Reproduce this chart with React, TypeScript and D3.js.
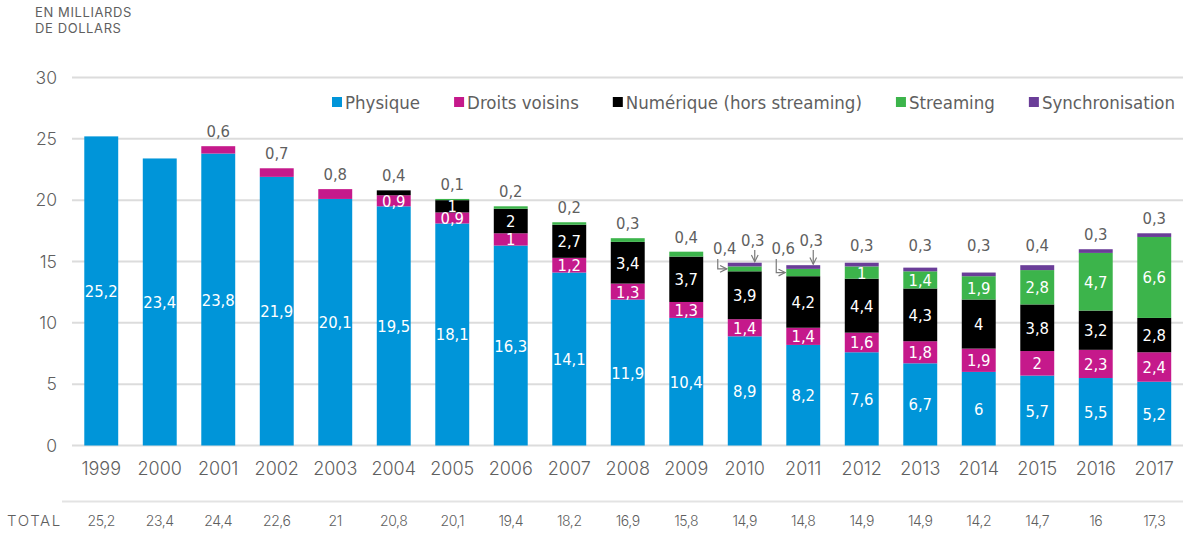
import { useEffect, useRef } from 'react';
import * as d3 from 'd3';

const years = ['1999', '2000', '2001', '2002', '2003', '2004', '2005', '2006', '2007', '2008', '2009', '2010', '2011', '2012', '2013', '2014', '2015', '2016', '2017'];
const physique = [25.2, 23.4, 23.8, 21.9, 20.1, 19.5, 18.1, 16.3, 14.1, 11.9, 10.4, 8.9, 8.2, 7.6, 6.7, 6, 5.7, 5.5, 5.2];
const droitsVoisins = [0, 0, 0.6, 0.7, 0.8, 0.9, 0.9, 1, 1.2, 1.3, 1.3, 1.4, 1.4, 1.6, 1.8, 1.9, 2, 2.3, 2.4];
const numerique = [0, 0, 0, 0, 0, 0.4, 1, 2, 2.7, 3.4, 3.7, 3.9, 4.2, 4.4, 4.3, 4, 3.8, 3.2, 2.8];
const streaming = [0, 0, 0, 0, 0, 0, 0.1, 0.2, 0.2, 0.3, 0.4, 0.4, 0.6, 1, 1.4, 1.9, 2.8, 4.7, 6.6];
const synchronisation = [0, 0, 0, 0, 0, 0, 0, 0, 0, 0, 0, 0.3, 0.3, 0.3, 0.3, 0.3, 0.4, 0.3, 0.3];
const totals = [25.2, 23.4, 24.4, 22.6, 21, 20.8, 20.1, 19.4, 18.2, 16.9, 15.8, 14.9, 14.8, 14.9, 14.9, 14.2, 14.7, 16, 17.3];
const yTicks = [0, 5, 10, 15, 20, 25, 30];

const seriesNames = ['Physique', 'Droits voisins', 'Numérique (hors streaming)', 'Streaming', 'Synchronisation'];
const seriesColors = ['#0095d9', '#c5198b', '#000000', '#3cb44b', '#6a3d98'];

const W = 1183;
const H = 537;
const narrow = "'Liberation Sans Narrow', 'DejaVu Sans Condensed', 'Arial Narrow', sans-serif";
const geo = "Inter, 'Noto Sans', sans-serif";
const grey = '#5f5f5f';

const fmt = (v: number) => String(v).replace('.', ',');

const App = () => {
  const svgRef = useRef<SVGSVGElement | null>(null);

  useEffect(() => {
    const svg = d3.select(svgRef.current);
    svg.selectAll('*').remove();

    const values = [physique, droitsVoisins, numerique, streaming, synchronisation];
    const rows = years.map((year, i) => {
      const r: any = { year };
      seriesNames.forEach((s, k) => { r[s] = values[k][i]; });
      return r;
    });
    const stacked = d3.stack().keys(seriesNames)(rows);

    const x = d3.scaleBand().domain(years).range([72, 1183.5]).paddingInner(0.42).paddingOuter(0.21);
    const y = d3.scaleLinear().domain([0, 30]).range([445.5, 77.5]);

    // arrow marker for the leader lines
    svg.append('defs').append('marker')
      .attr('id', 'arr')
      .attr('viewBox', '0 0 10 10')
      .attr('refX', 9).attr('refY', 5)
      .attr('markerWidth', 7).attr('markerHeight', 7)
      .attr('orient', 'auto')
      .append('path')
      .attr('d', 'M1,1 L9,5 L1,9')
      .attr('fill', 'none')
      .attr('stroke', '#7a7a7a')
      .attr('stroke-width', 1.4);

    // unit title
    svg.append('text')
      .attr('x', 35).attr('y', 17)
      .style('font-family', geo).style('font-size', '13px').style('fill', grey)
      .style('letter-spacing', '0.6px')
      .selectAll('tspan')
      .data(['EN MILLIARDS', 'DE DOLLARS'])
      .enter().append('tspan')
      .attr('x', 35)
      .attr('dy', (d, i) => (i === 0 ? 0 : 16))
      .text(d => d);

    // grid + y labels
    svg.append('g').selectAll('line')
      .data(yTicks).enter().append('line')
      .attr('x1', 72).attr('x2', W)
      .attr('y1', d => y(d)).attr('y2', d => y(d))
      .attr('stroke', '#dcdcdc').attr('stroke-width', 2);

    svg.append('g').selectAll('text')
      .data(yTicks).enter().append('text')
      .attr('x', 57).attr('y', d => y(d) + 6)
      .attr('text-anchor', 'end')
      .style('font-family', geo).style('font-size', '17.5px').style('font-weight', 300).style('fill', grey)
      .text(d => d);

    // bars
    const bars = svg.append('g');
    stacked.forEach((layer, k) => {
      bars.selectAll(null)
        .data(layer.filter(d => d[1] - d[0] > 0))
        .enter().append('rect')
        .attr('x', d => x(d.data.year as string)!)
        .attr('width', x.bandwidth())
        .attr('y', d => y(d[1]))
        .attr('height', d => y(d[0]) - y(d[1]))
        .attr('fill', seriesColors[k]);
    });

    // labels
    const labels = svg.append('g').style('font-family', narrow).style('font-size', '16.5px');
    years.forEach((year, i) => {
      const x0 = x(year)!;
      const cx = x0 + x.bandwidth() / 2;
      const small: { k: number; v: number; lo: number; hi: number }[] = [];
      stacked.forEach((layer, k) => {
        const d = layer[i];
        const v = values[k][i];
        if (!v) return;
        if (v >= 0.9) {
          labels.append('text')
            .attr('x', cx).attr('y', (y(d[0]) + y(d[1])) / 2 + 6)
            .attr('text-anchor', 'middle').style('fill', '#fff')
            .text(fmt(v));
        } else {
          small.push({ k, v, lo: d[0], hi: d[1] });
        }
      });
      const top = y(stacked[stacked.length - 1][i][1]);
      if (small.length === 1) {
        labels.append('text')
          .attr('x', cx).attr('y', Math.min(top - 9, 251))
          .attr('text-anchor', 'middle').style('fill', grey)
          .text(fmt(small[0].v));
      } else if (small.length === 2) {
        const [st, sy] = small;
        // synchronisation: label above, arrow down
        labels.append('text')
          .attr('x', cx + 8).attr('y', 246)
          .attr('text-anchor', 'middle').style('fill', grey)
          .text(fmt(sy.v));
        labels.append('line')
          .attr('x1', cx + 10).attr('x2', cx + 10)
          .attr('y1', 250).attr('y2', top - 1)
          .attr('stroke', '#7a7a7a').attr('stroke-width', 1.2)
          .attr('marker-end', 'url(#arr)');
        // streaming: label on the left, elbow leader
        labels.append('text')
          .attr('x', cx - 20).attr('y', 254)
          .attr('text-anchor', 'middle').style('fill', grey)
          .text(fmt(st.v));
        const ym = (y(st.lo) + y(st.hi)) / 2;
        labels.append('path')
          .attr('d', `M${cx - 27},259 L${cx - 27},${ym} L${x0 - 1},${ym}`)
          .attr('fill', 'none')
          .attr('stroke', '#7a7a7a').attr('stroke-width', 1.2)
          .attr('marker-end', 'url(#arr)');
      }
    });

    // year labels
    svg.append('g').selectAll('text')
      .data(years).enter().append('text')
      .attr('x', d => x(d)! + x.bandwidth() / 2).attr('y', 475)
      .attr('text-anchor', 'middle')
      .style('font-family', geo).style('font-size', '18px').style('font-weight', 300).style('fill', grey)
      .text(d => d);

    // totals row
    svg.append('line')
      .attr('x1', 62).attr('x2', W).attr('y1', 501.5).attr('y2', 501.5)
      .attr('stroke', '#e3e3e3').attr('stroke-width', 2);
    svg.append('text')
      .attr('x', 7).attr('y', 526)
      .style('font-family', geo).style('font-size', '15px').style('font-weight', 300)
      .style('letter-spacing', '1.6px').style('fill', grey)
      .text('TOTAL');
    svg.append('g').selectAll('text')
      .data(totals).enter().append('text')
      .attr('x', (d, i) => x(years[i])! + x.bandwidth() / 2).attr('y', 526)
      .attr('text-anchor', 'middle')
      .style('font-family', geo).style('font-size', '14px').style('font-weight', 300)
      .style('letter-spacing', '-0.4px').style('fill', grey)
      .text(d => fmt(d));

    // legend
    const legend = svg.append('g').style('font-family', narrow).style('font-size', '18.5px');
    let lx = 332;
    seriesNames.forEach((name, k) => {
      legend.append('rect')
        .attr('x', lx).attr('y', 97).attr('width', 10).attr('height', 10)
        .attr('fill', seriesColors[k]);
      const t = legend.append('text')
        .attr('x', lx + 13).attr('y', 108.5)
        .style('fill', grey)
        .text(name);
      const w = (t.node() as SVGTextElement).getComputedTextLength();
      lx += 13 + w + 34;
    });
  }, []);

  return (
    <svg ref={svgRef} width={W} height={H} style={{ position: 'absolute', left: 0, top: 0, background: '#fff' }} />
  );
};

export default App;
